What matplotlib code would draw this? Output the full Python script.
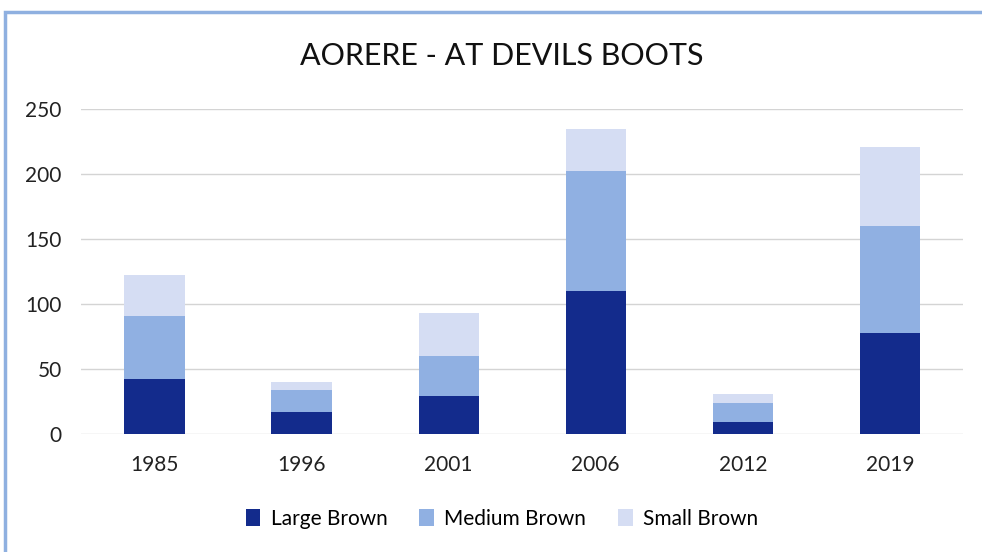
import matplotlib.pyplot as plt
import numpy as np
from matplotlib.patches import Rectangle

years = ["1985", "1996", "2001", "2006", "2012", "2019"]
large = [42, 17, 29, 110, 9, 78]
medium = [49, 17, 31, 92, 15, 82]
small = [31, 6, 33, 33, 7, 61]

series_names = ["Large Brown", "Medium Brown", "Small Brown"]
colors = ["#132b8c", "#90b0e2", "#d5ddf3"]

plt.rcParams['font.family'] = ['Lato', 'DejaVu Sans']

fig = plt.figure(figsize=(9.82, 5.52), dpi=100)
ax = fig.add_axes([0.0825, 0.2138, 0.8985, 0.5887])

x = np.arange(len(years))
bottom = np.zeros(len(years))
for vals, name, col in zip([large, medium, small], series_names, colors):
    ax.bar(x, vals, width=0.41, bottom=bottom, color=col, label=name, zorder=3)
    bottom += np.array(vals)

ax.set_xlim(-0.5, len(years) - 0.5)
ax.set_ylim(0, 250)
ax.set_yticks(range(0, 251, 50))
ax.set_xticks(x)
ax.set_xticklabels(years)
ax.yaxis.grid(True, color="#d4d4d4", linewidth=1, zorder=0)
for s in ax.spines.values():
    s.set_visible(False)
ax.tick_params(length=0, labelsize=15, colors="#222222")
ax.tick_params(axis='x', pad=15)
ax.tick_params(axis='y', pad=14)

fig.text(502 / 982, 1 - 56 / 552, "AORERE - AT DEVILS BOOTS", ha="center", va="center",
         fontsize=22, color="#111111")

fig.legend(loc="center", bbox_to_anchor=(502 / 982, 1 - 519 / 552), ncol=3, frameon=False,
           fontsize=15, handlelength=0.7, handleheight=0.9, handletextpad=0.5, columnspacing=1.53)

# blue frame of the embedded chart
fig.patches.append(Rectangle((5 / 982, -0.1), 1.2, 1 - 12 / 552 + 0.1, transform=fig.transFigure,
                             fill=False, edgecolor="#8fb0e0", linewidth=2.5))

fig.savefig("out.png", dpi=100)
